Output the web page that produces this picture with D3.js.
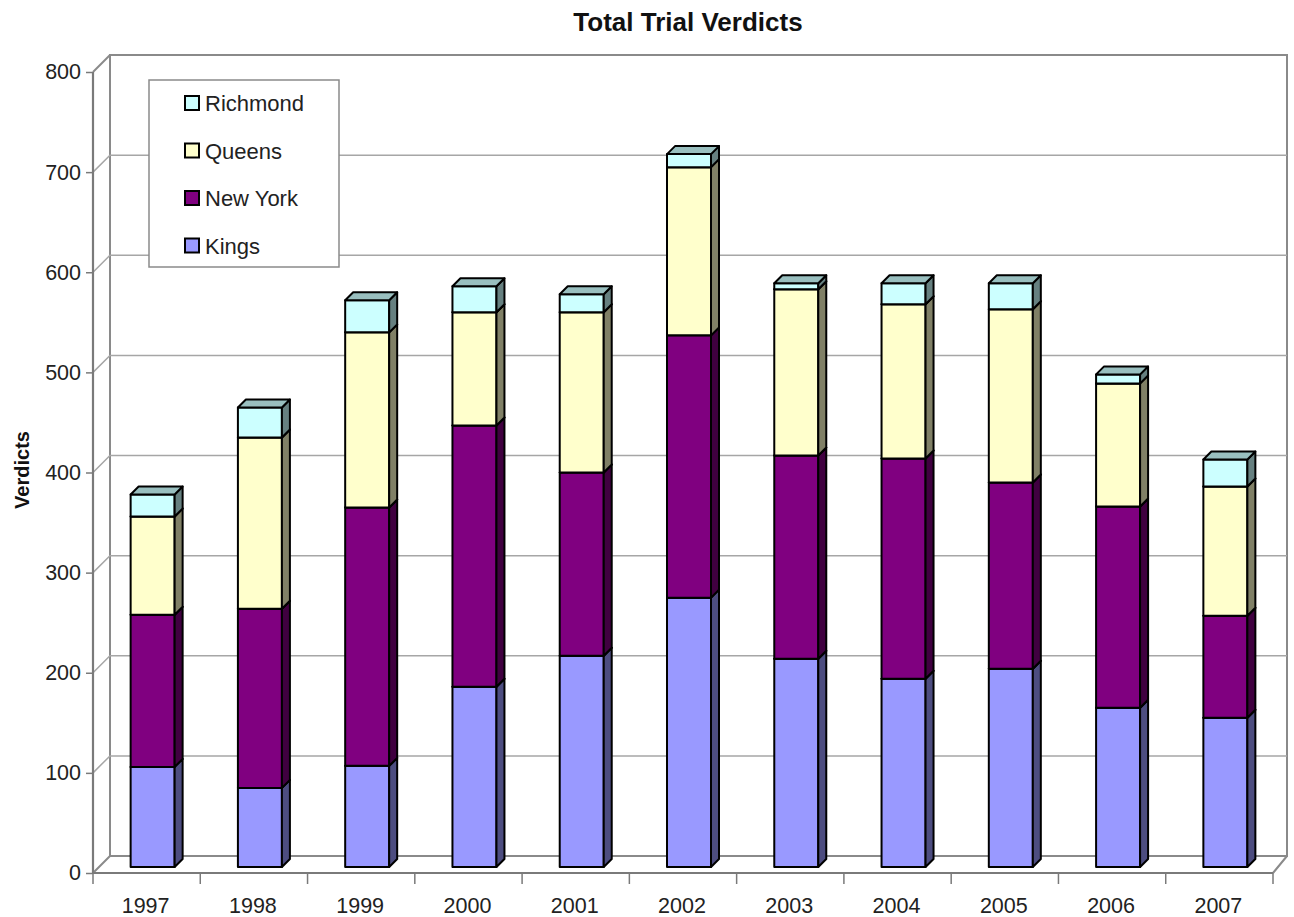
<!DOCTYPE html>
<html>
<head>
<meta charset="utf-8">
<script src="https://cdn.jsdelivr.net/npm/d3@7"></script>
<style>
  html, body { margin: 0; padding: 0; background: #ffffff; }
  svg { display: block; font-family: "Liberation Sans", Arial, sans-serif; }
</style>
</head>
<body>
<svg id="chart" width="1294" height="917"></svg>
<script>
// Trial verdicts per borough, 1997-2007
const years = ["1997","1998","1999","2000","2001","2002","2003","2004","2005","2006","2007"];
const kings    = [100,  79, 101, 180, 211, 269, 208, 188, 198, 159, 149];
const newYork  = [152, 179, 258, 261, 183, 262, 203, 220, 186, 201, 102];
const queens   = [ 98, 171, 175, 113, 160, 168, 166, 154, 173, 123, 129];
const richmond = [ 22,  30,  32,  26,  18,  13,   6,  21,  26,   9,  27];
const seriesNames = ["Kings", "New York", "Queens", "Richmond"];
const yTicks = [0, 100, 200, 300, 400, 500, 600, 700, 800];

const seriesValues = [kings, newYork, queens, richmond];
const colors = {
  "Kings":    "#9999ff",
  "New York": "#800080",
  "Queens":   "#ffffcc",
  "Richmond": "#ccffff"
};

const rows = years.map((yr, i) => {
  const r = { year: yr };
  seriesNames.forEach((s, k) => r[s] = seriesValues[k][i]);
  return r;
});

const svg = d3.select("#chart");

// Front plane of the 3-D box
const frontLeft = 93, frontRight = 1273;
const depth = 17;              // wall depth offset (right/up)
const barShift = 6;            // bars sit a little behind the front plane
const barDepth = 8;
const barWidth = 44;

const x = d3.scaleBand().domain(years).range([frontLeft, frontRight]).padding(0);
const y = d3.scaleLinear().domain([0, 800]).range([873, 72]);

const wallStroke = "#8a8a8a";
const gridStroke = "#a6a6a6";

// Back wall, left wall and floor
const g = svg.append("g");
const yTop = y(800), yBot = y(0);
g.append("rect")
  .attr("x", frontLeft + depth).attr("y", yTop - depth)
  .attr("width", frontRight - frontLeft - 3).attr("height", yBot - yTop)
  .attr("fill", "#ffffff").attr("stroke", wallStroke).attr("stroke-width", 2);

// Gridlines: diagonal across the side wall, then across the back wall
g.selectAll("path.grid")
  .data(yTicks.filter(v => v > 0 && v < 800))
  .join("path")
  .attr("class", "grid")
  .attr("fill", "none")
  .attr("stroke", gridStroke)
  .attr("stroke-width", 1.5)
  .attr("d", v => `M${frontLeft},${y(v)} L${frontLeft + depth},${y(v) - depth} L${frontRight + depth - 3},${y(v) - depth}`);

// Top edge of side wall
g.append("path")
  .attr("fill", "none").attr("stroke", wallStroke).attr("stroke-width", 2)
  .attr("d", `M${frontLeft},${yTop} L${frontLeft + depth},${yTop - depth}`);

// Floor outline
g.append("path")
  .attr("fill", "none").attr("stroke", wallStroke).attr("stroke-width", 2)
  .attr("d", `M${frontLeft},${yBot} L${frontLeft + depth},${yBot - depth} M${frontRight},${yBot} L${frontRight + depth - 3},${yBot - depth}`);

// Front axes
g.append("path")
  .attr("fill", "none").attr("stroke", "#7a7a7a").attr("stroke-width", 2.2)
  .attr("d", `M${frontLeft},${yTop} L${frontLeft},${yBot} L${frontRight},${yBot}`);

// Y axis ticks and labels
const yAxis = d3.axisLeft(y).tickValues(yTicks).tickSize(7).tickPadding(5).tickFormat(d3.format("d"));
const yg = svg.append("g").attr("transform", `translate(${frontLeft},0)`).call(yAxis);
yg.select(".domain").remove();
yg.selectAll(".tick line").attr("stroke", "#7a7a7a").attr("stroke-width", 1.5);
yg.selectAll(".tick text").attr("font-size", 21.5).attr("fill", "#222").attr("font-family", "Liberation Sans, Arial, sans-serif");

// X axis: tick marks at category boundaries, labels centred
const xAxisG = svg.append("g");
const bounds = years.map(d => x(d)).concat([frontRight]);
xAxisG.selectAll("line.xt").data(bounds).join("line")
  .attr("class", "xt")
  .attr("x1", d => d).attr("x2", d => d)
  .attr("y1", yBot).attr("y2", yBot + 11)
  .attr("stroke", "#7a7a7a").attr("stroke-width", 1.5);
xAxisG.selectAll("text").data(years).join("text")
  .attr("x", d => x(d) + x.bandwidth() / 2 - 1)
  .attr("y", 913)
  .attr("text-anchor", "middle")
  .attr("font-size", 21.5)
  .attr("fill", "#222")
  .text(d => d);

// Stacked 3-D bars
const stack = d3.stack().keys(seriesNames);
const layers = stack(rows);

function shade(c, k) {
  const col = d3.rgb(c);
  return d3.rgb(col.r * k, col.g * k, col.b * k).formatHex();
}

const barsG = svg.append("g")
  .attr("stroke", "#000").attr("stroke-width", 2).attr("stroke-linejoin", "round");

years.forEach((yr, i) => {
  const xl = x(yr) + (x.bandwidth() - barWidth) / 2 + barShift;
  const xr = xl + barWidth;
  layers.forEach(layer => {
    const name = layer.key;
    const [v0, v1] = layer[i];
    const yb = y(v0) - barShift, yt = y(v1) - barShift;
    const c = colors[name];
    const bg = barsG.append("g");
    bg.append("rect")
      .attr("x", xl).attr("y", yt).attr("width", barWidth).attr("height", yb - yt)
      .attr("fill", c);
    bg.append("path")
      .attr("fill", shade(c, 0.5))
      .attr("d", `M${xr},${yb} L${xr + barDepth},${yb - barDepth} L${xr + barDepth},${yt - barDepth} L${xr},${yt} Z`);
    bg.append("path")
      .attr("fill", shade(c, 0.75))
      .attr("d", `M${xl},${yt} L${xl + barDepth},${yt - barDepth} L${xr + barDepth},${yt - barDepth} L${xr},${yt} Z`);
  });
});

// Legend
const legend = svg.append("g");
legend.append("rect")
  .attr("x", 149).attr("y", 80).attr("width", 190).attr("height", 187)
  .attr("fill", "#ffffff").attr("stroke", "#8a8a8a").attr("stroke-width", 1.5);
const legendOrder = seriesNames.slice().reverse();
const li = legend.selectAll("g.item").data(legendOrder).join("g")
  .attr("class", "item")
  .attr("transform", (d, i) => `translate(185,${103 + i * 47.5})`);
li.append("rect")
  .attr("x", 0).attr("y", -7).attr("width", 14).attr("height", 14)
  .attr("fill", d => colors[d]).attr("stroke", "#000").attr("stroke-width", 2);
li.append("text")
  .attr("x", 20).attr("y", 8)
  .attr("font-size", 22).attr("fill", "#222")
  .text(d => d);

// Title and axis title
svg.append("text")
  .attr("x", 688).attr("y", 31)
  .attr("text-anchor", "middle")
  .attr("font-size", 26).attr("font-weight", "bold").attr("fill", "#111")
  .text("Total Trial Verdicts");
svg.append("text")
  .attr("transform", "translate(29,470) rotate(-90)")
  .attr("text-anchor", "middle")
  .attr("font-size", 20).attr("font-weight", "bold").attr("fill", "#111")
  .text("Verdicts");
</script>
</body>
</html>
